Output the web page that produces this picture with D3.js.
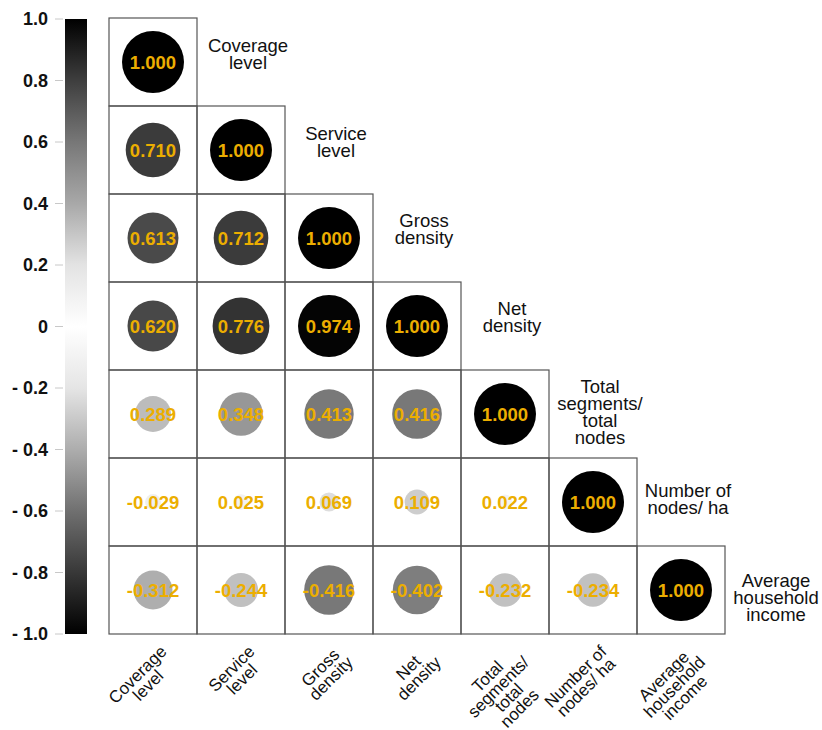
<!DOCTYPE html>
<html>
<head>
<meta charset="utf-8">
<script src="https://cdn.jsdelivr.net/npm/d3@7"></script>
<style>
  body { margin: 0; background: #fff; }
  svg { display: block; }
  text { font-family: "Liberation Sans", Arial, Helvetica, sans-serif; }
</style>
</head>
<body>
<svg id="chart" width="822" height="730"></svg>
<script>
// Variable names (one entry per line of the label)
const variables = [
  ["Coverage", "level"],
  ["Service", "level"],
  ["Gross", "density"],
  ["Net", "density"],
  ["Total", "segments/", "total", "nodes"],
  ["Number of", "nodes/ ha"],
  ["Average", "household", "income"]
];

// Lower triangle of the correlation matrix, row by row
const corrRows = [
  [1.000],
  [0.710, 1.000],
  [0.613, 0.712, 1.000],
  [0.620, 0.776, 0.974, 1.000],
  [0.289, 0.348, 0.413, 0.416, 1.000],
  [-0.029, 0.025, 0.069, 0.109, 0.022, 1.000],
  [-0.312, -0.244, -0.416, -0.402, -0.232, -0.234, 1.000]
];

// Colour bar ticks
const colorbarTicks = [1.0, 0.8, 0.6, 0.4, 0.2, 0, -0.2, -0.4, -0.6, -0.8, -1.0];
const colorbarTickLabels = ["1.0", "0.8", "0.6", "0.4", "0.2", "0", "- 0.2", "- 0.4", "- 0.6", "- 0.8", "- 1.0"];

const svg = d3.select("#chart");
const n = variables.length;

const x = d3.scaleBand().domain(d3.range(n)).range([109, 725]).padding(0);
const y = d3.scaleBand().domain(d3.range(n)).range([18, 634]).padding(0);
const bw = x.bandwidth();

// grey level of a circle from |r|
const greyOf = d3.scaleLinear()
  .domain([0, 0.05, 0.11, 0.29, 0.35, 0.42, 0.62, 0.72, 0.78, 0.97, 1])
  .range([255, 228, 205, 188, 150, 118, 72, 58, 50, 5, 0])
  .clamp(true);
const fillOf = v => { const g = Math.round(greyOf(Math.abs(v))); return d3.rgb(g, g, g).formatHex(); };

// circle radius from |r|
const radius = d3.scaleLinear()
  .domain([0, 0.03, 0.07, 0.11, 0.24, 0.29, 0.35, 0.42, 0.62, 0.72, 0.78, 0.97, 1])
  .range([6, 8, 9.5, 12.5, 17, 18, 22, 25, 25.5, 27.5, 28.5, 31, 31])
  .clamp(true);

const cells = [];
corrRows.forEach((row, i) => row.forEach((v, j) => cells.push({ i, j, v })));

// ---- colour bar ----
const cbY = d3.scaleLinear().domain([1, -1]).range([19, 634]);
const cbStops = d3.scaleLinear()
  .domain([-1, -0.8, -0.6, -0.4, -0.2, 0, 0.2, 0.4, 0.6, 0.8, 1])
  .range([0, 56, 112, 173, 229, 255, 227, 168, 119, 62, 0]);
const defs = svg.append("defs");
const grad = defs.append("linearGradient").attr("id", "cbGrad")
  .attr("x1", 0).attr("y1", 0).attr("x2", 0).attr("y2", 1);
d3.range(0, 1.0001, 0.05).forEach(t => {
  const v = 1 - 2 * t;
  const g = Math.round(cbStops(v));
  grad.append("stop").attr("offset", t).attr("stop-color", d3.rgb(g, g, g).formatHex());
});
svg.append("rect")
  .attr("x", 65).attr("y", cbY(1)).attr("width", 22).attr("height", cbY(-1) - cbY(1))
  .attr("fill", "url(#cbGrad)");

const cbAxis = svg.append("g");
cbAxis.selectAll("line").data(colorbarTicks).join("line")
  .attr("x1", 55).attr("x2", 63)
  .attr("y1", d => cbY(d)).attr("y2", d => cbY(d))
  .attr("stroke", "#c8c8c8").attr("stroke-width", 1);
cbAxis.selectAll("text").data(colorbarTicks).join("text")
  .attr("x", 48).attr("y", d => cbY(d)).attr("dy", "0.36em")
  .attr("text-anchor", "end")
  .attr("font-size", 18).attr("font-weight", "bold").attr("fill", "#111")
  .text((d, k) => colorbarTickLabels[k]);

// ---- grid cells ----
svg.append("g").selectAll("rect").data(cells).join("rect")
  .attr("x", d => x(d.j)).attr("y", d => y(d.i))
  .attr("width", bw).attr("height", bw)
  .attr("fill", "none").attr("stroke", "#555").attr("stroke-width", 1.2);

// ---- circles ----
svg.append("g").selectAll("circle").data(cells).join("circle")
  .attr("cx", d => x(d.j) + bw / 2).attr("cy", d => y(d.i) + bw / 2)
  .attr("r", d => radius(Math.abs(d.v)))
  .attr("fill", d => fillOf(d.v));

// ---- values ----
svg.append("g").selectAll("text").data(cells).join("text")
  .attr("x", d => x(d.j) + bw / 2).attr("y", d => y(d.i) + bw / 2)
  .attr("dy", "0.36em").attr("text-anchor", "middle")
  .attr("font-size", 18.5).attr("font-weight", "bold").attr("fill", "#ECAE00")
  .text(d => d3.format(".3f")(d.v).replace("−", "-"));

// ---- diagonal labels ----
const diagDy = [-10, -10, -11, -11, -21, -5, -3];
const diag = svg.append("g").selectAll("text").data(variables).join("text")
  .attr("font-size", 18.5).attr("fill", "#111").attr("text-anchor", "middle")
  .attr("transform", (d, i) => `translate(${x(i) + bw + 51},${y(i) + bw / 2 + diagDy[i]})`);
diag.selectAll("tspan").data(d => d).join("tspan")
  .attr("x", 0).attr("y", (d, k) => k * 17).text(d => d);

// ---- bottom rotated labels ----
const bottom = svg.append("g").selectAll("g").data(variables).join("g")
  .attr("transform", (d, i) => `translate(${x(i) + bw / 2 + 4},${642}) rotate(-45)`);
bottom.each(function (lines) {
  const g = d3.select(this);
  const t = g.append("text").attr("font-size", 17).attr("fill", "#111").attr("text-anchor", "middle");
  t.selectAll("tspan").data(lines).join("tspan").attr("x", 0).attr("y", (d, k) => k * 15).text(d => d);
  const w = t.node().getBBox().width;
  t.attr("transform", `translate(${-w / 2},${15})`);
});
</script>
</body>
</html>
